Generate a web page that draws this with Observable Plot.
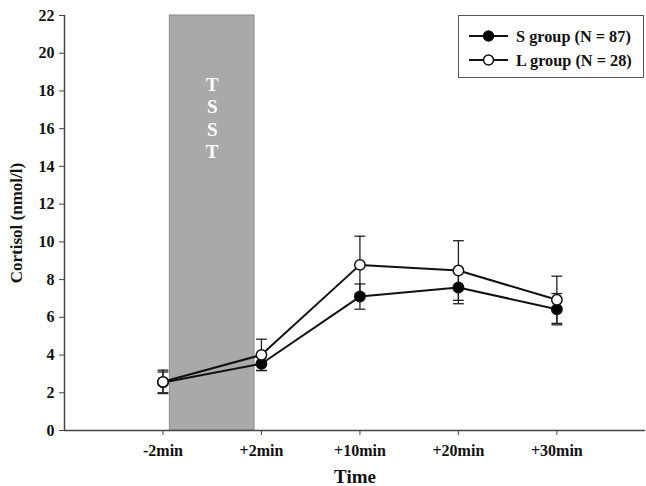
<!DOCTYPE html>
<html>
<head>
<meta charset="utf-8">
<script src="https://cdn.jsdelivr.net/npm/d3@7"></script>
<script src="https://cdn.jsdelivr.net/npm/@observablehq/plot@0.6"></script>
<style>
  html, body { margin: 0; padding: 0; background: #fff; }
  #chart { position: relative; width: 646px; height: 486px; font-family: "Liberation Serif", "Times New Roman", serif; }
  #legend {
    position: absolute; left: 458px; top: 15px; width: 186px; height: 63px;
    border: 1.5px solid #555; background: #fff; box-sizing: border-box;
  }
  #legend svg { display: block; }
</style>
</head>
<body>
<div id="chart"></div>
<script>
// Sampling times (category index on the x axis) and their labels
const timeIndex = [0, 1, 2, 3, 4];
const timeLabels = ["-2min", "+2min", "+10min", "+20min", "+30min"];

// Mean cortisol (nmol/l) and standard error per group
const sMeans = [2.55, 3.54, 7.10, 7.58, 6.43];
const sErrors = [0.55, 0.36, 0.67, 0.86, 0.83];
const lMeans = [2.58, 4.01, 8.78, 8.48, 6.93];
const lErrors = [0.62, 0.83, 1.52, 1.58, 1.25];

const groups = [
  {name: "S group (N = 87)", means: sMeans, errors: sErrors, fill: "black"},
  {name: "L group (N = 28)", means: lMeans, errors: lErrors, fill: "white"}
];

// Trier Social Stress Test window, between the -2min and +2min samples
const tsstStart = [0.07];
const tsstEnd = [0.93];
const tsstLetters = "T\nS\nS\nT";

const yTicks = d3.range(0, 23, 2);

const rows = groups.flatMap(g => timeIndex.map((t, i) => ({
  group: g.name, fill: g.fill, t, mean: g.means[i], err: g.errors[i]
})));

const capHalf = 0.055;
const font = "'Liberation Serif', 'Times New Roman', serif";

const plot = Plot.plot({
  width: 646,
  height: 486,
  marginLeft: 64,
  marginRight: 1,
  marginTop: 15,
  marginBottom: 56,
  style: {fontFamily: font, fontSize: "16px", fontWeight: "bold", background: "white", color: "#111"},
  x: {domain: [-1, 4.9], axis: null},
  y: {domain: [0, 22], axis: null},
  marks: [
    Plot.rect(tsstStart.map((s, i) => ({s, e: tsstEnd[i]})), {
      x1: "s", x2: "e", y1: 0, y2: 22, fill: "#a9a9a9", stroke: "#8a8a8a", strokeWidth: 1
    }),
    Plot.text([tsstLetters], {
      x: (tsstStart[0] + tsstEnd[0]) / 2, y: 16.6, text: d => d,
      fill: "white", fontWeight: "bold", fontSize: 19, lineHeight: 1.17, lineAnchor: "middle"
    }),
    // axis lines
    Plot.ruleX([-1], {y1: 0, y2: 22, stroke: "#444", strokeWidth: 1.5}),
    Plot.ruleY([0], {stroke: "#444", strokeWidth: 1.5}),
    Plot.axisY({
      ticks: yTicks, tickSize: 5, tickPadding: 5, tickFormat: "d",
      fill: "#111", stroke: "#444",
      label: "Cortisol (nmol/l)", labelAnchor: "center", labelArrow: "none", labelOffset: 55
    }),
    Plot.axisX({
      ticks: timeIndex, tickSize: 5, tickPadding: 9, tickFormat: i => timeLabels[i],
      fill: "#111", stroke: "#444",
      label: "Time", labelAnchor: "center", labelArrow: "none", labelOffset: 52
    }),
    // error bars
    Plot.ruleX(rows, {x: "t", y1: d => d.mean - d.err, y2: d => d.mean + d.err, stroke: "#222", strokeWidth: 1.3}),
    Plot.link(rows, {x1: d => d.t - capHalf, x2: d => d.t + capHalf, y1: d => d.mean + d.err, y2: d => d.mean + d.err, stroke: "#222", strokeWidth: 1.3}),
    Plot.link(rows, {x1: d => d.t - capHalf, x2: d => d.t + capHalf, y1: d => d.mean - d.err, y2: d => d.mean - d.err, stroke: "#222", strokeWidth: 1.3}),
    // group lines and markers
    Plot.line(rows, {x: "t", y: "mean", z: "group", stroke: "#111", strokeWidth: 2}),
    Plot.dot(rows, {x: "t", y: "mean", r: 5.2, fill: "fill", stroke: "#111", strokeWidth: 1.5})
  ]
});

// axis text sizes: tick labels and titles
const svg = d3.select(plot);
svg.selectAll("[aria-label='y-axis tick label'], [aria-label='x-axis tick label']")
  .attr("font-size", 16).attr("font-weight", "bold");
svg.selectAll("[aria-label='y-axis tick label'] text, [aria-label='x-axis tick label'] text")
  .attr("font-size", 16).attr("font-weight", "bold");
svg.selectAll("[aria-label='x-axis label'], [aria-label='x-axis label'] text")
  .attr("font-size", 19).attr("font-weight", "bold");
svg.selectAll("[aria-label='y-axis label'], [aria-label='y-axis label'] text")
  .attr("font-size", 17).attr("font-weight", "bold");

const chart = document.getElementById("chart");
chart.appendChild(plot);

// legend box in the upper right of the plot area
const legend = document.createElement("div");
legend.id = "legend";
chart.appendChild(legend);
const lsvg = d3.select(legend).append("svg").attr("width", 183).attr("height", 60);
groups.forEach((g, i) => {
  const y = 20 + i * 24;
  const row = lsvg.append("g").attr("transform", `translate(0, ${y})`);
  row.append("line").attr("x1", 10).attr("x2", 49).attr("y1", 0).attr("y2", 0)
    .attr("stroke", "#111").attr("stroke-width", 2);
  row.append("circle").attr("cx", 29.5).attr("cy", 0).attr("r", 5)
    .attr("fill", g.fill).attr("stroke", "#111").attr("stroke-width", 1.5);
  row.append("text").attr("x", 57).attr("y", 0).attr("dy", "0.35em")
    .attr("font-family", font).attr("font-weight", "bold").attr("font-size", 16.3)
    .attr("fill", "#111").text(g.name);
});
</script>
</body>
</html>
